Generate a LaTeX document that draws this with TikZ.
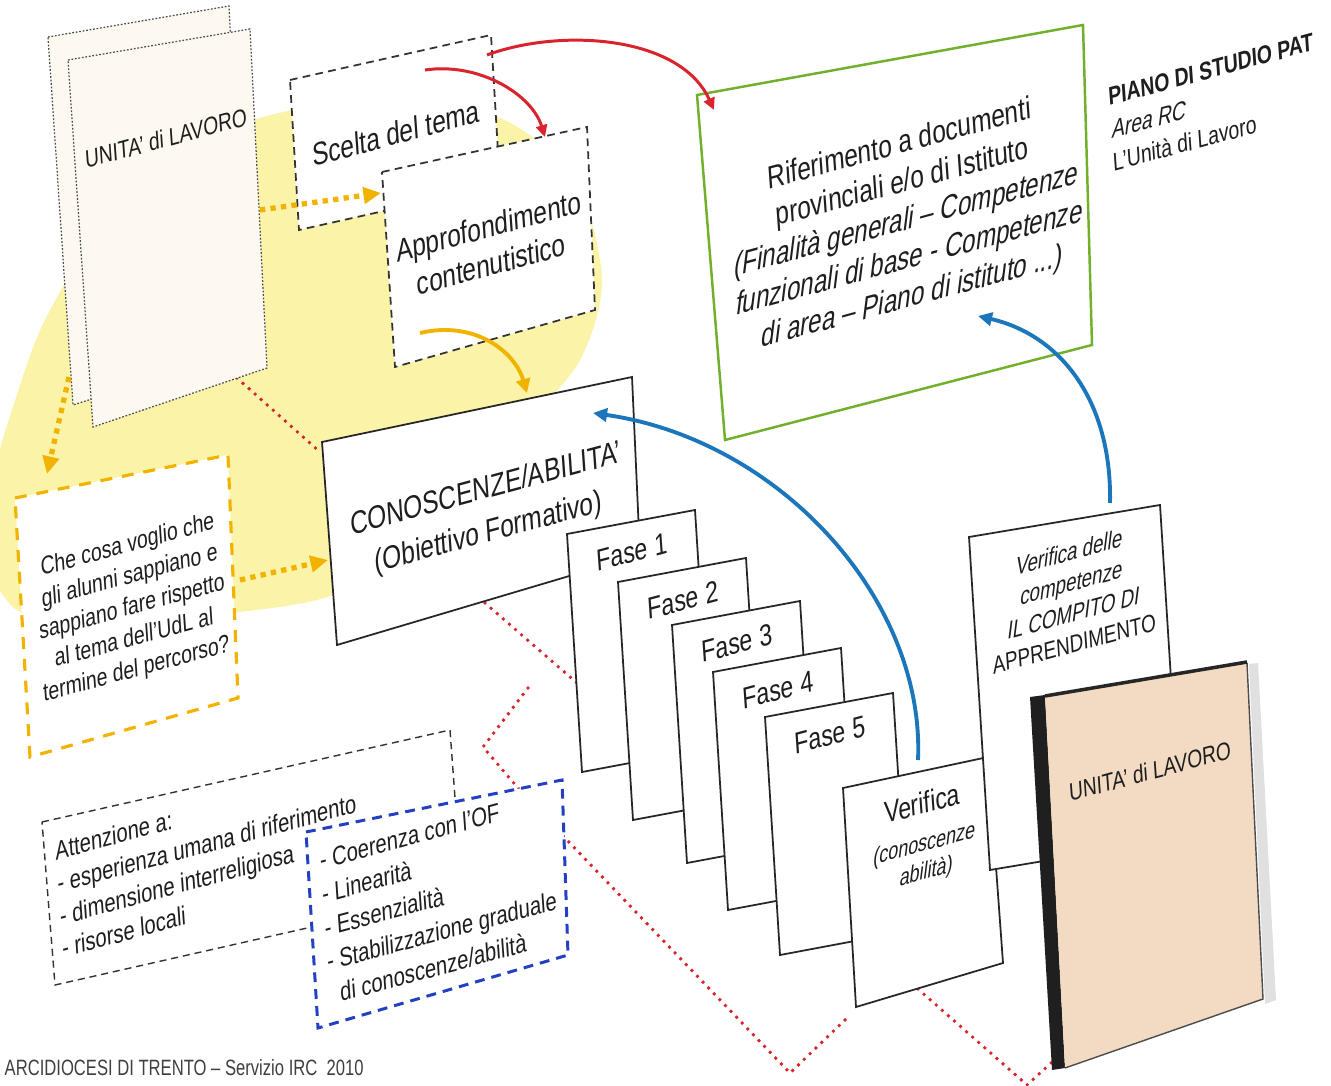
\documentclass[tikz,border=0pt]{standalone}
\usepackage{fontspec}
\setmainfont{Liberation Sans}[FakeStretch=0.75, ItalicFont=Liberation Sans, ItalicFeatures={FakeSlant=0.2}, BoldItalicFont=Liberation Sans Bold, BoldItalicFeatures={FakeSlant=0.2}]
\usetikzlibrary{arrows.meta}

\definecolor{halo}{HTML}{FAF3A8}
\definecolor{gold}{HTML}{F2B300}
\definecolor{redline}{HTML}{D9232D}
\definecolor{blueline}{HTML}{1C76BC}
\definecolor{bluedash}{HTML}{2340C4}
\definecolor{leaf}{HTML}{72B02C}
\definecolor{paper}{HTML}{FDF9F1}
\definecolor{cover}{HTML}{F3DBC3}
\definecolor{ink}{HTML}{1E1E1E}

\tikzset{
  sheet/.style={draw=black!70, fill=paper, line width=0.35pt, dash pattern=on 0.5pt off 0.5pt},
  dashbox/.style={draw=black!80, fill=white, line width=0.5pt, dash pattern=on 2.2pt off 1.5pt},
  thindash/.style={draw=black!80, fill=white, line width=0.4pt, dash pattern=on 2pt off 1.4pt},
  goldbox/.style={draw=gold, fill=white, line width=0.9pt, dash pattern=on 3.4pt off 2.8pt},
  bluebox/.style={draw=bluedash, fill=white, line width=0.85pt, dash pattern=on 2.8pt off 2pt},
  plainbox/.style={draw=black!85, fill=white, line width=0.5pt},
  leafbox/.style={draw=leaf, fill=white, line width=0.7pt},
  txt/.style={yslant=0.27, xslant=-0.07, align=center, text=ink, inner sep=0pt},
  goldarrow/.style={gold, line width=1.5pt, dash pattern=on 1.5pt off 1.5pt, -{Triangle[length=5pt,width=4.6pt]}},
  goldcurve/.style={gold, line width=1.1pt, -{Triangle[length=4pt,width=4pt]}},
  redarrow/.style={redline, line width=0.85pt, -{Triangle[length=3.4pt,width=3.2pt]}},
  bluearrow/.style={blueline, line width=1.1pt, -{Triangle[length=4pt,width=3.8pt]}},
  reddots/.style={redline, line width=1.1pt, line cap=round, dash pattern=on 0pt off 2.3pt},
}

\begin{document}
\begin{tikzpicture}[x=0.01cm, y=-0.01cm]
	\useasboundingbox[fill=white] (0,0) rectangle (1331,1086);
	\fill[halo] plot[smooth cycle] coordinates {(385,100) (500,118) (575,180) (602,280) (580,360) (525,425) (440,520) (340,592) (240,612) (120,622) (20,612) (-15,550) (-5,470) (12,410) (45,320) (110,220) (240,125)};

	\coordinate (udlFoot) at (237,378);
	\coordinate (conCorner) at (320,452);
	\coordinate (conFoot) at (485,603);
	\coordinate (faseBack) at (585,690);
	\coordinate (zigA) at (528,688);
	\coordinate (zigB) at (483,747);
	\coordinate (zigC) at (518,788);
	\coordinate (zigD) at (565,838);
	\coordinate (zigE) at (790,1073);
	\coordinate (zigF) at (847,1018);
	\coordinate (verFoot) at (918,989);
	\coordinate (zigG) at (1027,1085);
	\coordinate (bookFoot) at (1052,1062);
	\draw[reddots] (udlFoot) -- (conCorner);
	\draw[reddots] (conFoot) -- (faseBack);
	\draw[reddots] (zigA) -- (zigB) -- (zigC) -- (zigD) -- (zigE) -- (zigF);
	\draw[reddots] (verFoot) -- (zigG) -- (bookFoot);

	\draw[sheet] (48,37) -- (229,6) -- (246,350) -- (73,405) -- cycle;
	\draw[sheet] (68,60) -- (250,29) -- (267,368) -- (93,427) -- cycle;
	\node[txt, font=\fontsize{7.2}{8.5}\selectfont] (udl) at (166,138) {UNITA’ di LAVORO};

	\draw[dashbox] (290,80) -- (491,35) -- (500,185) -- (299,230) -- cycle;
	\node[txt, font=\fontsize{9.2}{11}\selectfont] (scelta) at (396,133) {Scelta del tema};
	\draw[dashbox] (382,172) -- (587,127) -- (595,310) -- (395,367) -- cycle;
	\node[txt, font=\fontsize{9.2}{11}\selectfont] (appro) at (490,245) {Approfondimento\\contenutistico};

	\draw[goldbox] (15,498) -- (228,455) -- (238,698) -- (30,757) -- cycle;
	\node[txt, font=\fontsize{7.3}{9}\selectfont] (domanda) at (132,608) {Che cosa voglio che\\gli alunni sappiano e\\sappiano fare rispetto\\al tema dell’UdL al\\termine del percorso?};

	\draw[plainbox] (322,442) -- (632,377) -- (640,555) -- (337,645) -- cycle;
	\node[txt, font=\fontsize{9.2}{12.5}\selectfont] (obiettivo) at (487,512) {CONOSCENZE/ABILITA’\\(Obiettivo Formativo)};

	\draw[leafbox] (697,95) -- (1083,25) -- (1092,345) -- (725,440) -- cycle;
	\node[txt, font=\fontsize{9.2}{11.1}\selectfont] (rif) at (905,222) {Riferimento a documenti\\provinciali e/o di Istituto\\\textit{(Finalità generali – Competenze}\\\textit{funzionali di base - Competenze}\\\textit{di area – Piano di istituto ...)}};
	\node[txt, align=left, anchor=west, font=\fontsize{7.3}{9.5}\selectfont] (piano) at (1110,130) {\textbf{PIANO DI STUDIO PAT}\\\textit{Area RC}\\L’Unità di Lavoro};

	\draw[plainbox] (567,534) -- ++(128,-24) -- ++(15,238) -- ++(-128,24) -- cycle;
	\node[txt, font=\fontsize{8.7}{10}\selectfont] (f1) at (632,552) {Fase 1};
	\draw[plainbox] (618,582) -- ++(128,-24) -- ++(15,238) -- ++(-128,24) -- cycle;
	\node[txt, font=\fontsize{8.7}{10}\selectfont] (f2) at (683,600) {Fase 2};
	\draw[plainbox] (672,625) -- ++(128,-24) -- ++(15,238) -- ++(-128,24) -- cycle;
	\node[txt, font=\fontsize{8.7}{10}\selectfont] (f3) at (737,643) {Fase 3};
	\draw[plainbox] (713,672) -- ++(128,-24) -- ++(15,238) -- ++(-128,24) -- cycle;
	\node[txt, font=\fontsize{8.7}{10}\selectfont] (f4) at (778,690) {Fase 4};
	\draw[plainbox] (765,717) -- ++(128,-24) -- ++(15,238) -- ++(-128,24) -- cycle;
	\node[txt, font=\fontsize{8.7}{10}\selectfont] (f5) at (830,735) {Fase 5};

	\draw[plainbox] (843,788) -- (988,757) -- (1003,963) -- (856,1007) -- cycle;
	\node[txt, font=\fontsize{8.7}{10}\selectfont] (verifica) at (922,803) {Verifica};
	\node[txt, font=\itshape\fontsize{6.8}{8}\selectfont] (verificasub) at (924,859) {(conoscenze\\abilità)};

	\draw[plainbox] (969,537) -- (1160,505) -- (1181,838) -- (990,870) -- cycle;
	\node[txt, font=\fontsize{7.1}{8.8}\selectfont] (compito) at (1071,598) {\textit{Verifica delle}\\\textit{competenze}\\\textit{IL COMPITO DI}\\APPRENDIMENTO};

	\fill[black!12] (1249,664) -- (1258,663) -- (1276,1000) -- (1265,1004) -- cycle;
	\fill[black!88] (1030,697) -- (1045,695) -- (1065,1068) -- (1052,1070) -- cycle;
	\fill[cover] (1045,697) -- (1247,663) -- (1263,999) -- (1065,1068) -- cycle;
	\draw[black!70, line width=0.4pt] (1247,663) -- (1263,999) -- (1065,1068);
	\draw[black!85, line width=1pt] (1045,696) -- (1247,662);
	\node[txt, font=\fontsize{7.2}{8.5}\selectfont] (udlbook) at (1150,771) {UNITA’ di LAVORO};

	\draw[thindash] (42,822) -- (450,730) -- (462,893) -- (55,985) -- cycle;
	\node[txt, align=left, anchor=west, font=\fontsize{7.6}{9.4}\selectfont] (attenzione) at (58,900) {Attenzione a:\\- esperienza umana di riferimento\\- dimensione interreligiosa\\- risorse locali};
	\draw[bluebox] (306,832) -- (562,780) -- (568,955) -- (318,1028) -- cycle;
	\node[txt, align=left, anchor=west, font=\fontsize{7.6}{9.8}\selectfont] (criteri) at (324,928) {- Coerenza con l’OF\\- Linearità\\- Essenzialità\\- Stabilizzazione graduale\\\hspace{0.4em}di conoscenze/abilità};

	\coordinate (sceltaOut) at (425,70);
	\coordinate (approIn) at (545,137);
	\coordinate (sceltaTop) at (487,55);
	\coordinate (rifIn) at (714,110);
	\draw[redarrow] (sceltaOut) .. controls (480,62) and (532,95) .. (approIn);
	\draw[redarrow] (sceltaTop) .. controls (560,28) and (680,35) .. (rifIn);

	\coordinate (udlSide) at (260,210);
	\coordinate (approSide) at (381,193);
	\coordinate (udlBack) at (69,377);
	\coordinate (domandaTop) at (47,474);
	\coordinate (domandaSide) at (240,580);
	\coordinate (obiettivoSide) at (328,560);
	\coordinate (approFoot) at (420,333);
	\coordinate (obiettivoTop) at (527,393);
	\draw[goldarrow] (udlSide) -- (approSide);
	\draw[goldarrow] (udlBack) -- (domandaTop);
	\draw[goldarrow] (domandaSide) -- (obiettivoSide);
	\draw[goldcurve] (approFoot) .. controls (475,320) and (515,352) .. (obiettivoTop);

	\coordinate (verificaTop) at (918,760);
	\coordinate (obiettivoCorner) at (593,413);
	\coordinate (compitoTop) at (1110,503);
	\coordinate (rifFoot) at (978,316);
	\draw[bluearrow] (verificaTop) .. controls (925,600) and (780,440) .. (obiettivoCorner);
	\draw[bluearrow] (compitoTop) .. controls (1112,400) and (1060,335) .. (rifFoot);

	\node[anchor=west, inner sep=0pt, text=black!75, font=\fontsize{6.3}{7}\selectfont] (footer) at (4,1068) {ARCIDIOCESI DI TRENTO – Servizio IRC\ \ 2010};
\end{tikzpicture}
\end{document}
